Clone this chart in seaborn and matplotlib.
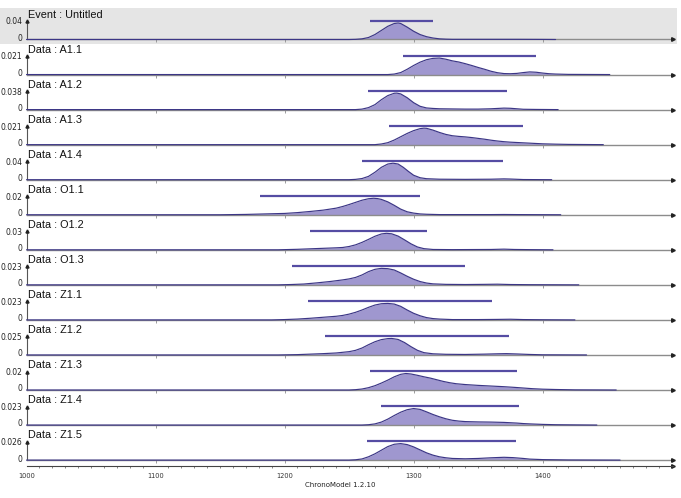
import matplotlib
matplotlib.use("Agg")
import matplotlib.pyplot as plt
import matplotlib.transforms as mtransforms
from matplotlib.patches import Rectangle
import seaborn as sns

# ---------------- data ----------------
panel_titles = ["Event : Untitled", "Data : A1.1", "Data : A1.2", "Data : A1.3", "Data : A1.4",
                "Data : O1.1", "Data : O1.2", "Data : O1.3", "Data : Z1.1", "Data : Z1.2",
                "Data : Z1.3", "Data : Z1.4", "Data : Z1.5"]
peak_ticks = [0.04, 0.021, 0.038, 0.021, 0.04, 0.02, 0.03, 0.023, 0.023, 0.025, 0.02, 0.023, 0.026]
peak_labels = ["0.04", "0.021", "0.038", "0.021", "0.04", "0.02", "0.03", "0.023", "0.023",
               "0.025", "0.02", "0.023", "0.026"]
hpd_low = [1266, 1292, 1265, 1281, 1260, 1181, 1220, 1206, 1218, 1231, 1266, 1275, 1264]
hpd_high = [1315, 1395, 1372, 1385, 1369, 1305, 1310, 1340, 1361, 1374, 1380, 1382, 1379]

curve_years = [
    [1250, 1255, 1260, 1265, 1270, 1275, 1280, 1285, 1288, 1290, 1295, 1300, 1305, 1310, 1315, 1320, 1325, 1330, 1350, 1380, 1400, 1410],
    [1280, 1285, 1290, 1295, 1300, 1305, 1310, 1315, 1320, 1325, 1330, 1335, 1340, 1345, 1350, 1355, 1360, 1365, 1370, 1375, 1380, 1385, 1390, 1395, 1400, 1405, 1410, 1420, 1452],
    [1255, 1260, 1265, 1270, 1275, 1280, 1285, 1287, 1290, 1295, 1300, 1305, 1310, 1315, 1320, 1330, 1340, 1350, 1360, 1365, 1370, 1375, 1380, 1385, 1395, 1412],
    [1270, 1275, 1280, 1285, 1290, 1295, 1300, 1305, 1308, 1310, 1315, 1320, 1325, 1330, 1335, 1340, 1345, 1350, 1355, 1360, 1365, 1370, 1375, 1380, 1385, 1390, 1395, 1400, 1410, 1420, 1447],
    [1250, 1255, 1260, 1265, 1270, 1275, 1280, 1284, 1288, 1292, 1296, 1300, 1305, 1310, 1320, 1340, 1360, 1370, 1375, 1385, 1407],
    [1150, 1160, 1170, 1180, 1190, 1200, 1210, 1220, 1230, 1240, 1245, 1250, 1255, 1260, 1265, 1269, 1272, 1275, 1280, 1285, 1290, 1295, 1300, 1305, 1310, 1320, 1360, 1370, 1380, 1414],
    [1195, 1200, 1210, 1220, 1230, 1240, 1245, 1250, 1255, 1260, 1265, 1270, 1275, 1279, 1283, 1288, 1293, 1298, 1303, 1308, 1315, 1330, 1360, 1370, 1378, 1390, 1408],
    [1195, 1205, 1215, 1225, 1235, 1245, 1250, 1255, 1260, 1265, 1270, 1275, 1280, 1285, 1290, 1295, 1300, 1305, 1310, 1315, 1325, 1340, 1355, 1365, 1375, 1390, 1428],
    [1190, 1200, 1210, 1220, 1230, 1240, 1245, 1250, 1255, 1260, 1265, 1270, 1275, 1280, 1285, 1290, 1295, 1300, 1305, 1310, 1315, 1320, 1330, 1350, 1365, 1375, 1385, 1400, 1425],
    [1195, 1210, 1220, 1230, 1240, 1250, 1255, 1260, 1265, 1270, 1275, 1280, 1283, 1288, 1293, 1298, 1303, 1308, 1315, 1325, 1340, 1355, 1365, 1372, 1380, 1390, 1400, 1434],
    [1250, 1255, 1260, 1265, 1270, 1275, 1280, 1285, 1290, 1294, 1298, 1303, 1308, 1313, 1318, 1323, 1328, 1333, 1340, 1350, 1360, 1370, 1378, 1385, 1392, 1400, 1410, 1425, 1457],
    [1260, 1265, 1270, 1275, 1280, 1285, 1290, 1295, 1300, 1305, 1310, 1315, 1320, 1325, 1330, 1335, 1340, 1350, 1360, 1370, 1380, 1385, 1390, 1400, 1410, 1425, 1442],
    [1250, 1255, 1260, 1265, 1270, 1275, 1280, 1285, 1290, 1295, 1300, 1305, 1310, 1315, 1320, 1325, 1330, 1340, 1350, 1360, 1370, 1377, 1385, 1390, 1400, 1420, 1460],
]
# density relative to each panel's peak value
curve_rel = [
    [0, 0.01, 0.04, 0.12, 0.3, 0.55, 0.8, 0.97, 1.0, 0.97, 0.75, 0.5, 0.3, 0.17, 0.09, 0.04, 0.02, 0.01, 0.01, 0.01, 0.005, 0],
    [0, 0.03, 0.12, 0.32, 0.55, 0.75, 0.9, 0.98, 1.0, 0.93, 0.83, 0.76, 0.66, 0.55, 0.43, 0.32, 0.2, 0.11, 0.06, 0.05, 0.07, 0.12, 0.16, 0.14, 0.09, 0.05, 0.03, 0.01, 0],
    [0, 0.03, 0.12, 0.3, 0.6, 0.85, 0.99, 1.0, 0.95, 0.72, 0.42, 0.2, 0.1, 0.07, 0.05, 0.04, 0.03, 0.03, 0.05, 0.07, 0.09, 0.08, 0.05, 0.02, 0.01, 0],
    [0, 0.04, 0.12, 0.28, 0.48, 0.68, 0.85, 0.97, 1.0, 0.99, 0.88, 0.74, 0.62, 0.54, 0.5, 0.47, 0.43, 0.38, 0.33, 0.27, 0.22, 0.18, 0.15, 0.13, 0.11, 0.09, 0.07, 0.05, 0.03, 0.015, 0],
    [0, 0.02, 0.07, 0.2, 0.45, 0.75, 0.95, 1.0, 0.95, 0.75, 0.5, 0.27, 0.12, 0.06, 0.03, 0.02, 0.03, 0.05, 0.04, 0.01, 0],
    [0, 0.01, 0.02, 0.04, 0.06, 0.08, 0.13, 0.2, 0.28, 0.4, 0.5, 0.62, 0.75, 0.88, 0.97, 1.0, 0.98, 0.93, 0.78, 0.57, 0.34, 0.18, 0.1, 0.05, 0.03, 0.01, 0.01, 0.015, 0.01, 0],
    [0, 0.01, 0.03, 0.06, 0.09, 0.12, 0.14, 0.2, 0.3, 0.45, 0.63, 0.82, 0.96, 1.0, 0.97, 0.83, 0.6, 0.36, 0.17, 0.07, 0.02, 0.01, 0.02, 0.04, 0.02, 0.01, 0],
    [0, 0.02, 0.05, 0.12, 0.2, 0.3, 0.36, 0.45, 0.6, 0.8, 0.94, 1.0, 0.98, 0.9, 0.72, 0.52, 0.34, 0.2, 0.11, 0.06, 0.03, 0.02, 0.03, 0.04, 0.02, 0.01, 0],
    [0, 0.02, 0.05, 0.1, 0.16, 0.22, 0.27, 0.35, 0.46, 0.6, 0.76, 0.9, 0.98, 1.0, 0.96, 0.82, 0.6, 0.4, 0.25, 0.14, 0.08, 0.05, 0.02, 0.02, 0.03, 0.04, 0.02, 0.01, 0],
    [0, 0.02, 0.05, 0.08, 0.12, 0.2, 0.28, 0.42, 0.62, 0.8, 0.93, 0.99, 1.0, 0.94, 0.75, 0.5, 0.28, 0.14, 0.07, 0.04, 0.03, 0.05, 0.07, 0.08, 0.06, 0.03, 0.01, 0],
    [0, 0.02, 0.06, 0.14, 0.26, 0.42, 0.6, 0.8, 0.95, 1.0, 0.97, 0.89, 0.8, 0.72, 0.62, 0.52, 0.44, 0.38, 0.33, 0.28, 0.24, 0.2, 0.16, 0.12, 0.08, 0.05, 0.03, 0.01, 0],
    [0, 0.02, 0.07, 0.18, 0.36, 0.58, 0.78, 0.93, 1.0, 0.95, 0.8, 0.64, 0.5, 0.38, 0.29, 0.24, 0.21, 0.19, 0.18, 0.16, 0.12, 0.09, 0.07, 0.04, 0.02, 0.01, 0],
    [0, 0.02, 0.07, 0.2, 0.38, 0.6, 0.82, 0.96, 1.0, 0.94, 0.8, 0.62, 0.44, 0.3, 0.2, 0.14, 0.1, 0.08, 0.1, 0.14, 0.17, 0.15, 0.1, 0.06, 0.03, 0.01, 0],
]
study_start, study_end = 1000, 1501
major_ticks = [1000, 1100, 1200, 1300, 1400]
minor_step = 10
footer = "ChronoModel 1.2.10"

# ---------------- style ----------------
sns.set_theme(style="white")
plt.rcParams["font.family"] = ["Liberation Sans", "DejaVu Sans"]

W, H = 681, 498
fig = plt.figure(figsize=(W / 100, H / 100), dpi=100)

fill_col = "#9f97cf"
edge_col = "#3c3686"
bar_col = "#554ca3"
axis_col = "#8c8c8c"

x_left, x_right = 26.5, 673.0
base0, step = 39.5, 35.05
above, below = 31.0, 4.0
peak_px = 16.5

# gray band behind the event panel
fig.patches.append(Rectangle((0, 1 - 44 / H), 677 / W, 36 / H, transform=fig.transFigure,
                             facecolor="#e5e5e5", edgecolor="none", zorder=-5))

n = len(panel_titles)
for i in range(n):
    base = base0 + step * i
    ax = fig.add_axes([x_left / W, 1 - (base + below) / H, (x_right - x_left) / W, (above + below) / H])
    ax.set_zorder(1)
    ax.patch.set_alpha(0)
    T = peak_ticks[i]
    unit = T / peak_px
    ax.set_xlim(study_start, study_end)
    ax.set_ylim(-below * unit, above * unit)

    xs = [study_start] + curve_years[i]
    ys = [0.0] + [r * T for r in curve_rel[i]]
    ax.fill_between(xs, ys, 0, color=fill_col, lw=0, zorder=2)
    sns.lineplot(x=xs, y=ys, ax=ax, color=edge_col, lw=0.85, sort=False, zorder=3)
    ax.hlines(T * 1.13, hpd_low[i], hpd_high[i], color=bar_col, lw=1.6, zorder=4)

    for s in ["top", "right"]:
        ax.spines[s].set_visible(False)
    ax.spines["bottom"].set_position(("data", 0))
    ax.spines["bottom"].set_bounds(study_start, study_end)
    ax.spines["bottom"].set_color(axis_col)
    ax.spines["bottom"].set_linewidth(1.0)
    ax.spines["left"].set_position(("data", study_start))
    ax.spines["left"].set_bounds(0, T * 1.12)
    ax.spines["left"].set_color("#555555")
    ax.spines["left"].set_linewidth(0.8)
    ax.plot([study_end], [0], marker=">", ms=2.6, color="#222222", clip_on=False, zorder=5)
    ax.plot([study_start], [T * 1.12], marker="^", ms=2.2, color="#222222", clip_on=False, zorder=5)

    ax.set_xticks(major_ticks[1:])
    ax.tick_params(axis="x", direction="out", length=2, width=0.6, color=axis_col,
                   labelbottom=False, bottom=True)
    ax.set_yticks([0, T])
    ax.set_yticklabels(["0", peak_labels[i]], fontsize=5.5, family="DejaVu Sans", color="#222222")
    ax.tick_params(axis="y", length=0, pad=3, left=True)
    shift = mtransforms.ScaledTranslation(0, 1.5 / 72, fig.dpi_scale_trans)
    for lab in ax.get_yticklabels():
        lab.set_transform(lab.get_transform() + shift)
    ax.grid(False)
    ax.text(0.002, 1 - 6 / (above + below), panel_titles[i], transform=ax.transAxes,
            ha="left", va="center", fontsize=7.8, color="#111111")

# bottom time axis
axb = fig.add_axes([x_left / W, 1 - 466 / H, (x_right - x_left) / W, 4 / H])
axb.set_zorder(1)
axb.patch.set_alpha(0)
axb.set_xlim(study_start, study_end)
for s in ["top", "right", "left"]:
    axb.spines[s].set_visible(False)
axb.spines["bottom"].set_color("#444444")
axb.spines["bottom"].set_linewidth(0.8)
axb.set_yticks([])
axb.set_xticks(major_ticks)
axb.set_xticklabels([str(t) for t in major_ticks], fontsize=4.8, family="DejaVu Sans")
axb.set_xticks(list(range(study_start, 1500, minor_step)), minor=True)
axb.tick_params(axis="x", which="major", direction="out", length=3, width=0.6, pad=2, colors="#333333")
axb.tick_params(axis="x", which="minor", direction="out", length=1.6, width=0.5, color="#555555", bottom=True)
axb.plot([study_end], [0], marker=">", ms=2.6, color="#222222", clip_on=False,
         transform=axb.get_xaxis_transform())
axb.grid(False)

fig.text(340 / W, 1 - 485 / H, footer, ha="center", va="center", fontsize=5, family="DejaVu Sans",
         color="#222222")

fig.savefig("out.png", dpi=100)
